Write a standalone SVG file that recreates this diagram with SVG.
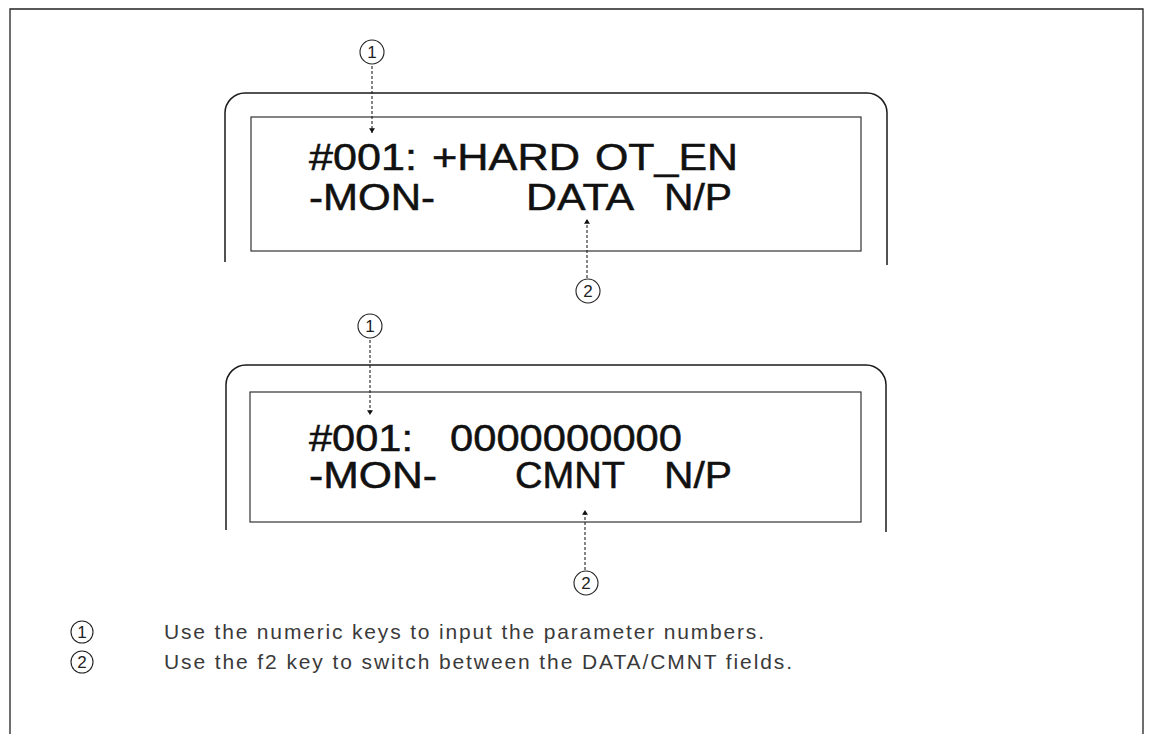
<svg xmlns="http://www.w3.org/2000/svg" width="1150" height="734" viewBox="0 0 1150 734">
<defs>
<marker id="ah" viewBox="0 0 8 10" refX="8" refY="5" markerWidth="5" markerHeight="6" orient="auto" markerUnits="userSpaceOnUse">
<path d="M0,0 L8,5 L0,10 z" fill="#111"/>
</marker>
</defs>
<style>
.frame{fill:none;stroke:#222;stroke-width:1.3}
.box{fill:none;stroke:#1a1a1a;stroke-width:1.5}
.inner{fill:none;stroke:#333;stroke-width:1.2}
.lcd{font-family:"Liberation Sans",Arial,sans-serif;font-size:37px;fill:#111;stroke:#111;stroke-width:0.5}
.num{fill:none;stroke:#222;stroke-width:1.1}
.numt{font-family:"Liberation Sans",Arial,sans-serif;font-size:17px;fill:#222;text-anchor:middle}
.conn{fill:none;stroke:#222;stroke-width:1.1;stroke-dasharray:3 2}
.legend{font-family:"Liberation Sans",Arial,sans-serif;font-size:21px;fill:#3a3a3a}
</style>
<rect width="1150" height="734" fill="#fff"/>
<path class="frame" d="M10,734 V9 H1143 V734"/>

<g id="panel1">
<path class="box" d="M225,262 V113 A20,20 0 0 1 245,93 H867 A20,20 0 0 1 887,113 V265"/>
<rect class="inner" x="251" y="117" width="610" height="134"/>
<text class="lcd" x="309" y="170" textLength="108" lengthAdjust="spacingAndGlyphs">#001:</text>
<text class="lcd" x="432" y="170" textLength="148" lengthAdjust="spacingAndGlyphs">+HARD</text>
<text class="lcd" x="595" y="170" textLength="143" lengthAdjust="spacingAndGlyphs">OT_EN</text>
<text class="lcd" x="309" y="210" textLength="126" lengthAdjust="spacingAndGlyphs">-MON-</text>
<text class="lcd" x="526" y="210" textLength="108" lengthAdjust="spacingAndGlyphs">DATA</text>
<text class="lcd" x="664" y="210" textLength="68" lengthAdjust="spacingAndGlyphs">N/P</text>
</g>

<g id="panel2">
<path class="box" d="M226,530 V385 A20,20 0 0 1 246,365 H866 A20,20 0 0 1 886,385 V532"/>
<rect class="inner" x="250" y="392" width="611" height="130"/>
<text class="lcd" x="309" y="451" textLength="104" lengthAdjust="spacingAndGlyphs">#001:</text>
<text class="lcd" x="450" y="451" textLength="232" lengthAdjust="spacingAndGlyphs">0000000000</text>
<text class="lcd" x="309" y="488" textLength="128" lengthAdjust="spacingAndGlyphs">-MON-</text>
<text class="lcd" x="515" y="488" textLength="110" lengthAdjust="spacingAndGlyphs">CMNT</text>
<text class="lcd" x="664" y="488" textLength="68" lengthAdjust="spacingAndGlyphs">N/P</text>
</g>

<g id="callout1a">
<circle class="num" cx="372" cy="52" r="12"/>
<text class="numt" x="372" y="58">1</text>
</g>
<g id="callout2a">
<circle class="num" cx="588" cy="291" r="12"/>
<text class="numt" x="588" y="297">2</text>
</g>
<g id="callout1b">
<circle class="num" cx="370" cy="326" r="12"/>
<text class="numt" x="370" y="332">1</text>
</g>
<g id="callout2b">
<circle class="num" cx="586" cy="583" r="12"/>
<text class="numt" x="586" y="589">2</text>
</g>

<g id="connectors">
<line class="conn" x1="372" y1="66" x2="372" y2="133" marker-end="url(#ah)"/>
<line class="conn" x1="587" y1="278" x2="587" y2="219" marker-end="url(#ah)"/>
<line class="conn" x1="370" y1="340" x2="370" y2="415" marker-end="url(#ah)"/>
<line class="conn" x1="585" y1="570" x2="585" y2="510" marker-end="url(#ah)"/>
</g>

<g id="legend">
<circle class="num" cx="82" cy="632" r="11"/>
<text class="numt" x="82" y="638">1</text>
<circle class="num" cx="82" cy="662" r="11"/>
<text class="numt" x="82" y="668">2</text>
<text class="legend" x="164" y="639" textLength="600" lengthAdjust="spacing">Use the numeric keys to input the parameter numbers.</text>
<text class="legend" x="164" y="669" textLength="628" lengthAdjust="spacing">Use the f2 key to switch between the DATA/CMNT fields.</text>
</g>
</svg>
